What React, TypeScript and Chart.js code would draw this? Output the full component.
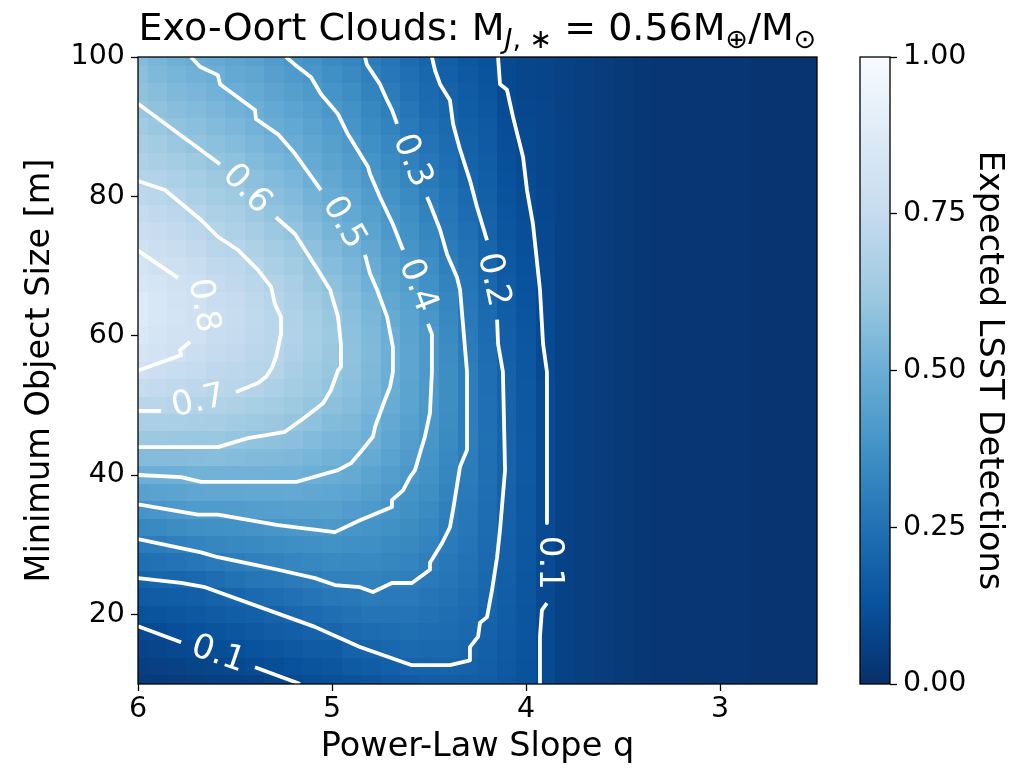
import React, { useEffect, useRef } from "react";
import { Chart, registerables } from "chart.js";

Chart.register(...registerables);

// ---------------- data ----------------
// Power-law slope q (cell centres, left to right on the reversed axis)
const qValues = [6.0, 5.9, 5.8, 5.7, 5.6, 5.5, 5.4, 5.3, 5.2, 5.1, 5.0, 4.9, 4.8, 4.7, 4.6, 4.5, 4.4, 4.3, 4.2, 4.1, 4.0, 3.9, 3.8, 3.7, 3.6, 3.5, 3.4, 3.3, 3.2, 3.1, 3.0, 2.9, 2.8, 2.7, 2.6, 2.5];
// Minimum object size [m] (cell centres, bottom to top)
const sizeValues = [10, 12.5, 15, 17.5, 20, 22.5, 25, 27.5, 30, 32.5, 35, 37.5, 40, 42.5, 45, 47.5, 50, 52.5, 55, 57.5, 60, 62.5, 65, 67.5, 70, 72.5, 75, 77.5, 80, 82.5, 85, 87.5, 90, 92.5, 95, 97.5, 100];
// Expected LSST detections: one column per q value, sizes from 10 m up to 100 m
const detections = [
  [0.04, 0.058, 0.076, 0.094, 0.125, 0.161, 0.197, 0.241, 0.286, 0.335, 0.386, 0.442, 0.5, 0.563, 0.619, 0.667, 0.713, 0.755, 0.797, 0.83, 0.855, 0.87, 0.868, 0.845, 0.82, 0.797, 0.772, 0.747, 0.722, 0.697, 0.675, 0.653, 0.63, 0.607, 0.59, 0.575, 0.56],
  [0.04, 0.06, 0.08, 0.101, 0.135, 0.168, 0.202, 0.249, 0.296, 0.345, 0.394, 0.448, 0.502, 0.563, 0.619, 0.667, 0.711, 0.746, 0.782, 0.81, 0.83, 0.843, 0.843, 0.825, 0.803, 0.781, 0.758, 0.735, 0.712, 0.688, 0.663, 0.638, 0.613, 0.59, 0.57, 0.55, 0.53],
  [0.045, 0.067, 0.09, 0.115, 0.145, 0.175, 0.208, 0.258, 0.308, 0.356, 0.404, 0.454, 0.505, 0.564, 0.617, 0.66, 0.702, 0.733, 0.765, 0.797, 0.808, 0.818, 0.815, 0.803, 0.786, 0.764, 0.741, 0.718, 0.695, 0.67, 0.643, 0.617, 0.593, 0.571, 0.55, 0.53, 0.51],
  [0.05, 0.075, 0.1, 0.126, 0.154, 0.181, 0.217, 0.269, 0.319, 0.366, 0.414, 0.465, 0.517, 0.569, 0.615, 0.654, 0.692, 0.721, 0.747, 0.774, 0.795, 0.804, 0.802, 0.787, 0.764, 0.742, 0.72, 0.697, 0.672, 0.647, 0.622, 0.597, 0.577, 0.556, 0.535, 0.514, 0.495],
  [0.055, 0.082, 0.109, 0.136, 0.164, 0.191, 0.234, 0.284, 0.328, 0.37, 0.415, 0.468, 0.52, 0.57, 0.614, 0.649, 0.683, 0.71, 0.73, 0.75, 0.767, 0.773, 0.765, 0.75, 0.733, 0.715, 0.695, 0.672, 0.648, 0.624, 0.601, 0.58, 0.56, 0.54, 0.52, 0.5, 0.48],
  [0.06, 0.09, 0.118, 0.146, 0.174, 0.204, 0.25, 0.296, 0.336, 0.376, 0.42, 0.47, 0.518, 0.562, 0.604, 0.639, 0.674, 0.705, 0.72, 0.737, 0.75, 0.755, 0.75, 0.736, 0.722, 0.701, 0.677, 0.653, 0.629, 0.605, 0.583, 0.562, 0.54, 0.518, 0.497, 0.479, 0.46],
  [0.07, 0.101, 0.13, 0.158, 0.185, 0.221, 0.264, 0.306, 0.346, 0.386, 0.428, 0.473, 0.516, 0.555, 0.594, 0.628, 0.66, 0.694, 0.708, 0.72, 0.73, 0.732, 0.725, 0.713, 0.699, 0.674, 0.65, 0.625, 0.6, 0.58, 0.56, 0.54, 0.519, 0.499, 0.481, 0.463, 0.445],
  [0.08, 0.112, 0.14, 0.169, 0.197, 0.235, 0.276, 0.316, 0.355, 0.394, 0.434, 0.475, 0.514, 0.551, 0.587, 0.617, 0.644, 0.67, 0.697, 0.706, 0.712, 0.711, 0.704, 0.687, 0.665, 0.643, 0.62, 0.598, 0.578, 0.557, 0.536, 0.515, 0.495, 0.476, 0.457, 0.438, 0.42],
  [0.095, 0.124, 0.152, 0.18, 0.21, 0.248, 0.286, 0.324, 0.362, 0.4, 0.438, 0.477, 0.513, 0.545, 0.578, 0.606, 0.626, 0.645, 0.661, 0.675, 0.685, 0.681, 0.672, 0.658, 0.642, 0.62, 0.598, 0.577, 0.555, 0.534, 0.512, 0.491, 0.471, 0.452, 0.432, 0.413, 0.395],
  [0.11, 0.137, 0.164, 0.191, 0.224, 0.26, 0.296, 0.332, 0.368, 0.404, 0.437, 0.47, 0.503, 0.53, 0.556, 0.583, 0.606, 0.622, 0.635, 0.647, 0.655, 0.647, 0.632, 0.616, 0.603, 0.584, 0.563, 0.542, 0.522, 0.501, 0.483, 0.466, 0.448, 0.431, 0.413, 0.396, 0.38],
  [0.12, 0.143, 0.167, 0.203, 0.239, 0.275, 0.31, 0.343, 0.375, 0.407, 0.436, 0.465, 0.494, 0.517, 0.54, 0.56, 0.58, 0.6, 0.61, 0.618, 0.623, 0.614, 0.603, 0.585, 0.566, 0.547, 0.528, 0.509, 0.49, 0.473, 0.455, 0.437, 0.42, 0.402, 0.385, 0.367, 0.35],
  [0.13, 0.16, 0.19, 0.221, 0.25, 0.28, 0.31, 0.338, 0.366, 0.394, 0.42, 0.452, 0.48, 0.505, 0.53, 0.548, 0.565, 0.576, 0.585, 0.588, 0.587, 0.577, 0.567, 0.551, 0.535, 0.516, 0.497, 0.479, 0.46, 0.442, 0.425, 0.407, 0.39, 0.375, 0.36, 0.345, 0.33],
  [0.14, 0.17, 0.2, 0.231, 0.26, 0.29, 0.315, 0.339, 0.362, 0.385, 0.41, 0.433, 0.455, 0.48, 0.505, 0.52, 0.535, 0.543, 0.55, 0.551, 0.55, 0.539, 0.527, 0.508, 0.49, 0.472, 0.455, 0.437, 0.42, 0.402, 0.385, 0.368, 0.35, 0.335, 0.32, 0.305, 0.29],
  [0.155, 0.185, 0.21, 0.235, 0.26, 0.283, 0.305, 0.328, 0.35, 0.37, 0.39, 0.41, 0.43, 0.448, 0.465, 0.478, 0.49, 0.498, 0.503, 0.504, 0.5, 0.485, 0.47, 0.455, 0.44, 0.425, 0.41, 0.395, 0.38, 0.365, 0.35, 0.335, 0.32, 0.305, 0.29, 0.275, 0.26],
  [0.165, 0.195, 0.22, 0.242, 0.263, 0.283, 0.303, 0.322, 0.34, 0.355, 0.37, 0.386, 0.402, 0.416, 0.43, 0.44, 0.45, 0.455, 0.46, 0.459, 0.455, 0.448, 0.44, 0.422, 0.405, 0.39, 0.375, 0.362, 0.35, 0.33, 0.31, 0.297, 0.285, 0.27, 0.255, 0.243, 0.23],
  [0.175, 0.197, 0.215, 0.233, 0.25, 0.268, 0.285, 0.303, 0.32, 0.335, 0.35, 0.363, 0.375, 0.384, 0.392, 0.399, 0.405, 0.408, 0.41, 0.408, 0.405, 0.395, 0.385, 0.373, 0.36, 0.345, 0.33, 0.314, 0.298, 0.284, 0.27, 0.258, 0.245, 0.232, 0.22, 0.21, 0.2],
  [0.18, 0.2, 0.215, 0.228, 0.24, 0.253, 0.265, 0.277, 0.288, 0.297, 0.305, 0.318, 0.33, 0.34, 0.35, 0.355, 0.36, 0.361, 0.36, 0.355, 0.35, 0.34, 0.33, 0.318, 0.305, 0.293, 0.28, 0.27, 0.26, 0.25, 0.24, 0.23, 0.22, 0.207, 0.195, 0.185, 0.175],
  [0.175, 0.19, 0.203, 0.214, 0.225, 0.235, 0.245, 0.254, 0.262, 0.27, 0.278, 0.284, 0.29, 0.295, 0.298, 0.3, 0.301, 0.3, 0.298, 0.293, 0.288, 0.282, 0.275, 0.268, 0.26, 0.252, 0.243, 0.232, 0.22, 0.204, 0.195, 0.187, 0.18, 0.172, 0.165, 0.157, 0.15],
  [0.17, 0.178, 0.185, 0.193, 0.2, 0.206, 0.212, 0.219, 0.225, 0.23, 0.235, 0.239, 0.242, 0.244, 0.245, 0.244, 0.243, 0.24, 0.238, 0.234, 0.23, 0.224, 0.218, 0.212, 0.207, 0.202, 0.197, 0.19, 0.182, 0.175, 0.168, 0.162, 0.155, 0.148, 0.14, 0.135, 0.13],
  [0.15, 0.155, 0.16, 0.165, 0.17, 0.174, 0.178, 0.182, 0.185, 0.188, 0.19, 0.193, 0.195, 0.196, 0.197, 0.196, 0.195, 0.193, 0.19, 0.185, 0.18, 0.175, 0.17, 0.163, 0.157, 0.151, 0.145, 0.138, 0.132, 0.126, 0.12, 0.115, 0.11, 0.105, 0.1, 0.097, 0.093],
  [0.13, 0.132, 0.135, 0.138, 0.14, 0.143, 0.145, 0.148, 0.15, 0.152, 0.153, 0.154, 0.155, 0.155, 0.155, 0.154, 0.153, 0.152, 0.15, 0.147, 0.143, 0.138, 0.133, 0.128, 0.124, 0.12, 0.115, 0.11, 0.105, 0.101, 0.097, 0.093, 0.09, 0.087, 0.085, 0.082, 0.08],
  [0.097, 0.097, 0.097, 0.097, 0.098, 0.1, 0.101, 0.102, 0.102, 0.102, 0.102, 0.102, 0.102, 0.102, 0.102, 0.102, 0.101, 0.101, 0.1, 0.099, 0.098, 0.097, 0.096, 0.095, 0.093, 0.092, 0.09, 0.088, 0.087, 0.085, 0.083, 0.082, 0.08, 0.078, 0.077, 0.076, 0.075],
  [0.07, 0.07, 0.07, 0.07, 0.07, 0.07, 0.07, 0.07, 0.07, 0.07, 0.07, 0.07, 0.07, 0.07, 0.07, 0.07, 0.07, 0.07, 0.07, 0.07, 0.07, 0.07, 0.07, 0.07, 0.07, 0.07, 0.07, 0.07, 0.07, 0.07, 0.07, 0.069, 0.068, 0.067, 0.066, 0.065, 0.065],
  [0.055, 0.055, 0.055, 0.055, 0.055, 0.055, 0.055, 0.055, 0.055, 0.055, 0.055, 0.055, 0.055, 0.055, 0.055, 0.055, 0.055, 0.055, 0.055, 0.055, 0.055, 0.055, 0.055, 0.055, 0.055, 0.055, 0.055, 0.055, 0.055, 0.055, 0.055, 0.055, 0.055, 0.055, 0.055, 0.055, 0.055],
  [0.045, 0.045, 0.045, 0.045, 0.045, 0.045, 0.045, 0.045, 0.045, 0.045, 0.045, 0.045, 0.045, 0.045, 0.045, 0.045, 0.045, 0.045, 0.045, 0.045, 0.045, 0.045, 0.045, 0.045, 0.045, 0.045, 0.045, 0.045, 0.045, 0.045, 0.045, 0.045, 0.045, 0.045, 0.045, 0.045, 0.045],
  [0.035, 0.035, 0.035, 0.035, 0.035, 0.035, 0.035, 0.035, 0.035, 0.035, 0.035, 0.035, 0.035, 0.035, 0.035, 0.035, 0.035, 0.035, 0.035, 0.035, 0.035, 0.035, 0.035, 0.035, 0.035, 0.035, 0.035, 0.035, 0.035, 0.035, 0.035, 0.035, 0.035, 0.035, 0.035, 0.035, 0.035],
  [0.028, 0.028, 0.028, 0.028, 0.028, 0.028, 0.028, 0.028, 0.028, 0.028, 0.028, 0.028, 0.028, 0.028, 0.028, 0.028, 0.028, 0.028, 0.028, 0.028, 0.028, 0.028, 0.028, 0.028, 0.028, 0.028, 0.028, 0.028, 0.028, 0.028, 0.028, 0.028, 0.028, 0.028, 0.028, 0.028, 0.028],
  [0.024, 0.024, 0.024, 0.024, 0.024, 0.024, 0.024, 0.024, 0.024, 0.024, 0.024, 0.024, 0.024, 0.024, 0.024, 0.024, 0.024, 0.024, 0.024, 0.024, 0.024, 0.024, 0.024, 0.024, 0.024, 0.024, 0.024, 0.024, 0.024, 0.024, 0.024, 0.024, 0.024, 0.024, 0.024, 0.024, 0.024],
  [0.022, 0.022, 0.022, 0.022, 0.022, 0.022, 0.022, 0.022, 0.022, 0.022, 0.022, 0.022, 0.022, 0.022, 0.022, 0.022, 0.022, 0.022, 0.022, 0.022, 0.022, 0.022, 0.022, 0.022, 0.022, 0.022, 0.022, 0.022, 0.022, 0.022, 0.022, 0.022, 0.022, 0.022, 0.022, 0.022, 0.022],
  [0.021, 0.021, 0.021, 0.021, 0.021, 0.021, 0.021, 0.021, 0.021, 0.021, 0.021, 0.021, 0.021, 0.021, 0.021, 0.021, 0.021, 0.021, 0.021, 0.021, 0.021, 0.021, 0.021, 0.021, 0.021, 0.021, 0.021, 0.021, 0.021, 0.021, 0.021, 0.021, 0.021, 0.021, 0.021, 0.021, 0.021],
  [0.02, 0.02, 0.02, 0.02, 0.02, 0.02, 0.02, 0.02, 0.02, 0.02, 0.02, 0.02, 0.02, 0.02, 0.02, 0.02, 0.02, 0.02, 0.02, 0.02, 0.02, 0.02, 0.02, 0.02, 0.02, 0.02, 0.02, 0.02, 0.02, 0.02, 0.02, 0.02, 0.02, 0.02, 0.02, 0.02, 0.02],
  [0.02, 0.02, 0.02, 0.02, 0.02, 0.02, 0.02, 0.02, 0.02, 0.02, 0.02, 0.02, 0.02, 0.02, 0.02, 0.02, 0.02, 0.02, 0.02, 0.02, 0.02, 0.02, 0.02, 0.02, 0.02, 0.02, 0.02, 0.02, 0.02, 0.02, 0.02, 0.02, 0.02, 0.02, 0.02, 0.02, 0.02],
  [0.019, 0.019, 0.019, 0.019, 0.019, 0.019, 0.019, 0.019, 0.019, 0.019, 0.019, 0.019, 0.019, 0.019, 0.019, 0.019, 0.019, 0.019, 0.019, 0.019, 0.019, 0.019, 0.019, 0.019, 0.019, 0.019, 0.019, 0.019, 0.019, 0.019, 0.019, 0.019, 0.019, 0.019, 0.019, 0.019, 0.019],
  [0.019, 0.019, 0.019, 0.019, 0.019, 0.019, 0.019, 0.019, 0.019, 0.019, 0.019, 0.019, 0.019, 0.019, 0.019, 0.019, 0.019, 0.019, 0.019, 0.019, 0.019, 0.019, 0.019, 0.019, 0.019, 0.019, 0.019, 0.019, 0.019, 0.019, 0.019, 0.019, 0.019, 0.019, 0.019, 0.019, 0.019],
  [0.018, 0.018, 0.018, 0.018, 0.018, 0.018, 0.018, 0.018, 0.018, 0.018, 0.018, 0.018, 0.018, 0.018, 0.018, 0.018, 0.018, 0.018, 0.018, 0.018, 0.018, 0.018, 0.018, 0.018, 0.018, 0.018, 0.018, 0.018, 0.018, 0.018, 0.018, 0.018, 0.018, 0.018, 0.018, 0.018, 0.018],
  [0.018, 0.018, 0.018, 0.018, 0.018, 0.018, 0.018, 0.018, 0.018, 0.018, 0.018, 0.018, 0.018, 0.018, 0.018, 0.018, 0.018, 0.018, 0.018, 0.018, 0.018, 0.018, 0.018, 0.018, 0.018, 0.018, 0.018, 0.018, 0.018, 0.018, 0.018, 0.018, 0.018, 0.018, 0.018, 0.018, 0.018],
];

// Contour lines [q, size] (split where the labels sit)
const c08a = [[6.0, 72.2], [5.794, 68.3]];
const c08b = [[5.732, 59.1], [5.784, 57.9], [5.778, 57.2], [6.0, 55.0]];
const c07a = [[6.0, 82.2], [5.861, 80.9], [5.675, 76.6], [5.588, 74.2], [5.485, 72.3], [5.381, 69.4], [5.314, 67.0], [5.294, 64.5], [5.263, 62.7], [5.263, 60.2], [5.289, 56.9], [5.309, 55.4], [5.34, 54.1], [5.381, 53.2], [5.495, 51.9]];
const c07b = [[5.881, 49.2], [6.0, 49.2]];
const c06a = [[6.0, 93.3], [5.577, 84.6]];
const c06b = [[5.289, 77.0], [5.191, 74.6], [5.072, 69.4], [5.01, 66.6], [4.969, 62.7], [4.954, 58.8], [4.954, 55.5], [4.969, 55.0], [5.005, 52.2], [5.046, 50.3], [5.139, 48.3], [5.242, 46.2], [5.433, 45.3], [5.588, 44.0], [6.0, 44.0]];
const c05a = [[5.727, 100], [5.68, 98.6], [5.588, 97.4], [5.577, 96.1], [5.397, 92.4], [5.392, 91.1], [5.278, 88.9], [5.191, 86.1], [5.057, 80.9]];
const c05b = [[4.83, 71.6], [4.804, 68.9], [4.768, 66.6], [4.716, 62.7], [4.686, 58.4], [4.686, 54.8], [4.701, 52.6], [4.727, 50.8], [4.778, 46.9], [4.789, 45.5], [4.856, 43.2], [4.902, 41.7], [4.969, 40.7], [5.108, 39.6], [5.186, 39.0], [5.675, 39.0], [5.778, 39.7], [6.0, 40.0]];
const c04a = [[5.237, 100], [5.191, 98.9], [5.108, 97.1], [5.057, 94.7], [4.969, 91.8], [4.918, 88.9], [4.814, 84.2], [4.804, 83.2], [4.753, 79.9], [4.686, 76.0], [4.634, 72.3]];
const c04b = [[4.505, 61.7], [4.485, 60.2], [4.485, 54.8], [4.495, 48.9], [4.521, 45.5], [4.546, 43.2], [4.572, 40.7], [4.598, 39.7], [4.634, 37.8], [4.691, 36.4], [4.691, 35.4], [4.856, 33.5], [4.985, 31.8], [5.278, 32.8], [5.588, 34.3], [5.691, 34.3], [6.0, 35.8]];
const c03a = [[4.83, 100], [4.82, 98.9], [4.753, 96.1], [4.716, 93.8], [4.691, 92.4], [4.665, 90.4]];
const c03b = [[4.51, 79.9], [4.495, 78.9], [4.443, 75.2], [4.407, 71.7], [4.356, 68.4], [4.34, 66.6], [4.325, 61.7], [4.304, 54.8], [4.304, 43.6], [4.34, 41.2], [4.376, 35.0], [4.392, 32.5], [4.433, 30.2], [4.495, 27.4], [4.495, 26.4], [4.588, 24.5], [4.691, 24.5], [4.789, 23.2], [4.856, 23.9], [4.985, 24.2], [5.088, 25.2], [5.278, 26.4], [5.397, 27.1], [5.588, 28.2], [5.675, 28.9], [6.0, 30.8]];
const c02a = [[4.485, 100], [4.469, 98.1], [4.443, 96.1], [4.392, 93.8], [4.376, 90.4], [4.34, 86.7], [4.289, 82.3], [4.253, 78.5], [4.201, 73.7]];
const c02b = [[4.149, 62.3], [4.144, 58.8], [4.119, 54.8], [4.108, 40.7], [4.134, 32.1], [4.149, 28.2], [4.175, 23.5], [4.201, 19.6], [4.237, 18.8], [4.247, 16.8], [4.289, 15.3], [4.289, 13.4], [4.392, 12.7], [4.588, 12.7], [4.856, 15.3], [5.088, 18.2], [5.655, 23.9], [5.778, 24.5], [6.0, 25.2]];
const c01a = [[4.144, 100], [4.134, 96.1], [4.098, 95.3], [4.067, 91.4], [4.015, 85.6], [3.995, 80.9], [3.964, 76.0], [3.928, 66.6], [3.912, 58.8], [3.892, 54.8], [3.892, 33.1]];
const c01b = [[3.892, 21.6], [3.918, 20.6], [3.928, 16.8], [3.928, 10.0]];
const c01c = [[6.0, 18.3], [5.778, 16.0]];
const c01d = [[5.397, 12.4], [5.191, 10.3], [5.165, 10.0]];
const contourSegments = [c08a, c08b, c07a, c07b, c06a, c06b, c05a, c05b, c04a, c04b, c03a, c03b, c02a, c02b, c01a, c01b, c01c, c01d];

// Contour labels (text and position in data units)
const contourLabels = [
  { text: "0.8", q: 5.665, m: 64.3 },
  { text: "0.7", q: 5.688, m: 50.5 },
  { text: "0.6", q: 5.44, m: 81.0 },
  { text: "0.5", q: 4.94, m: 76.2 },
  { text: "0.4", q: 4.56, m: 67.2 },
  { text: "0.3", q: 4.588, m: 85.1 },
  { text: "0.2", q: 4.17, m: 68.0 },
  { text: "0.1", q: 3.88, m: 27.4 },
  { text: "0.1", q: 5.588, m: 14.2 },
];
const labelAngles = [80, -13, 46, 60, 69, 68, 78, 90, 19];

const xTicks = [6, 5, 4, 3];
const yTicks = [20, 40, 60, 80, 100];
const cbTicks = [0, 0.25, 0.5, 0.75, 1];

// ---------------- styling helpers ----------------
const FONT = '"DejaVu Sans", sans-serif';
const BLUES = ["#f7fbff", "#deebf7", "#c6dbef", "#9ecae1", "#6baed6", "#4292c6", "#2171b5", "#08519c", "#08306b"];
const BLUES_RGB = BLUES.map((h) => [parseInt(h.slice(1, 3), 16), parseInt(h.slice(3, 5), 16), parseInt(h.slice(5, 7), 16)]);

function bluesR(v: number): string {
  const t = 1 - Math.max(0, Math.min(1, v));
  const p = t * (BLUES_RGB.length - 1);
  const i = Math.min(BLUES_RGB.length - 2, Math.floor(p));
  const f = p - i;
  const a = BLUES_RGB[i];
  const b = BLUES_RGB[i + 1];
  return `rgb(${Math.round(a[0] + (b[0] - a[0]) * f)},${Math.round(a[1] + (b[1] - a[1]) * f)},${Math.round(a[2] + (b[2] - a[2]) * f)})`;
}

function cellEdges(c: number[]): number[][] {
  const n = c.length;
  return c.map((v, i) => {
    const lo = i === 0 ? v - (c[1] - c[0]) / 2 : (c[i - 1] + v) / 2;
    const hi = i === n - 1 ? v + (c[n - 1] - c[n - 2]) / 2 : (v + c[i + 1]) / 2;
    return [lo, hi];
  });
}

const heatmapPlugin = {
  id: "heatmap",
  beforeDatasetsDraw(chart: any) {
    const { ctx, chartArea: a, scales } = chart;
    const xs = scales.x;
    const ys = scales.y;
    const xe = cellEdges(qValues);
    const ye = cellEdges(sizeValues);
    ctx.save();
    ctx.beginPath();
    ctx.rect(a.left, a.top, a.right - a.left, a.bottom - a.top);
    ctx.clip();
    detections.forEach((col, i) => {
      const p0 = Math.round(xs.getPixelForValue(xe[i][0]));
      const p1 = Math.round(xs.getPixelForValue(xe[i][1]));
      const left = Math.min(p0, p1);
      const w = Math.abs(p1 - p0);
      col.forEach((v, j) => {
        const y0 = Math.round(ys.getPixelForValue(ye[j][0]));
        const y1 = Math.round(ys.getPixelForValue(ye[j][1]));
        ctx.fillStyle = bluesR(v);
        ctx.fillRect(left, Math.min(y0, y1), w, Math.abs(y1 - y0));
      });
    });
    ctx.restore();
  },
  afterDatasetsDraw(chart: any) {
    const { ctx, scales } = chart;
    ctx.save();
    ctx.fillStyle = "#ffffff";
    ctx.font = `34px ${FONT}`;
    ctx.textAlign = "center";
    ctx.textBaseline = "middle";
    contourLabels.forEach((lab, k) => {
      const px = scales.x.getPixelForValue(lab.q);
      const py = scales.y.getPixelForValue(lab.m);
      ctx.save();
      ctx.translate(px, py);
      ctx.rotate((labelAngles[k] * Math.PI) / 180);
      ctx.fillText(lab.text, 0, 0);
      ctx.restore();
    });
    ctx.restore();
  },
  afterDraw(chart: any) {
    const { ctx, chartArea: a } = chart;
    ctx.save();
    ctx.strokeStyle = "#000";
    ctx.lineWidth = 1.3;
    ctx.strokeRect(a.left, a.top, a.right - a.left, a.bottom - a.top);
    // title with sub-scripts
    const parts: [string, string, number][] = [
      ["Exo-Oort Clouds: M", `38px ${FONT}`, 0],
      ["J", `italic 27px ${FONT}`, 8],
      [", \u2217", `27px ${FONT}`, 8],
      [" = 0.56M", `38px ${FONT}`, 0],
      ["\u2295", `27px ${FONT}`, 8],
      ["/M", `38px ${FONT}`, 0],
      ["\u2299", `27px ${FONT}`, 8],
    ];
    let total = 0;
    const widths = parts.map(([t, f]) => {
      ctx.font = f;
      const w = ctx.measureText(t).width;
      total += w;
      return w;
    });
    let x = (a.left + a.right) / 2 - total / 2;
    const base = 40;
    ctx.fillStyle = "#000";
    ctx.textAlign = "left";
    ctx.textBaseline = "alphabetic";
    parts.forEach(([t, f, dy], k) => {
      ctx.font = f;
      ctx.fillText(t, x, base + dy);
      x += widths[k];
    });
    ctx.restore();
  },
};

const colorbarPlugin = {
  id: "colorbar",
  beforeDatasetsDraw(chart: any) {
    const { ctx, chartArea: a, scales } = chart;
    const ys = scales.y;
    ctx.save();
    for (let py = Math.floor(a.top); py < Math.ceil(a.bottom); py++) {
      ctx.fillStyle = bluesR(ys.getValueForPixel(py + 0.5));
      ctx.fillRect(a.left, py, a.right - a.left, 1);
    }
    ctx.restore();
  },
  afterDraw(chart: any) {
    const { ctx, chartArea: a } = chart;
    ctx.save();
    ctx.strokeStyle = "#000";
    ctx.lineWidth = 1.3;
    ctx.strokeRect(a.left, a.top, a.right - a.left, a.bottom - a.top);
    ctx.restore();
  },
};

const tickGrid = { display: true, drawOnChartArea: false, drawTicks: true, tickLength: 7, tickWidth: 1.3, tickColor: "#000" };

export default function App() {
  const mainRef = useRef<HTMLCanvasElement>(null);
  const barRef = useRef<HTMLCanvasElement>(null);

  useEffect(() => {
    Chart.defaults.font.family = FONT;
    const main = new Chart(mainRef.current as HTMLCanvasElement, {
      type: "scatter",
      data: {
        datasets: contourSegments.map((seg) => ({
          data: seg.map(([q, m]) => ({ x: q, y: m })),
          showLine: true,
          borderColor: "#ffffff",
          backgroundColor: "#ffffff",
          borderWidth: 3.8,
          pointRadius: 0,
          tension: 0,
          fill: false,
          clip: 0,
          borderJoinStyle: "round",
        })),
      } as any,
      options: {
        responsive: false,
        animation: false,
        devicePixelRatio: 1,
        events: [],
        layout: { padding: { left: 0, top: 57, right: 28, bottom: 0 } },
        plugins: { legend: { display: false }, tooltip: { enabled: false }, title: { display: false } },
        scales: {
          x: {
            type: "linear",
            min: 2.5,
            max: 6,
            reverse: true,
            afterBuildTicks: (s: any) => {
              s.ticks = xTicks.map((v) => ({ value: v }));
            },
            afterFit: (s: any) => {
              s.height = 87;
            },
            ticks: { font: { size: 28.5 }, color: "#000", padding: 1, maxRotation: 0, callback: (v: any) => String(v) },
            grid: tickGrid,
            border: { display: false },
            title: { display: true, text: "Power-Law Slope q", font: { size: 33.5 }, color: "#000", padding: { top: 0, bottom: 4 } },
          },
          y: {
            type: "linear",
            min: 10,
            max: 100,
            afterBuildTicks: (s: any) => {
              s.ticks = yTicks.map((v) => ({ value: v }));
            },
            afterFit: (s: any) => {
              s.width = 138;
            },
            ticks: { font: { size: 28.5 }, color: "#000", padding: 6, callback: (v: any) => String(v) },
            grid: tickGrid,
            border: { display: false },
            title: { display: true, text: "Minimum Object Size [m]", font: { size: 33.5 }, color: "#000", padding: { top: 20, bottom: 0 } },
          },
        },
      } as any,
      plugins: [heatmapPlugin],
    });

    const bar = new Chart(barRef.current as HTMLCanvasElement, {
      type: "scatter",
      data: { datasets: [] },
      options: {
        responsive: false,
        animation: false,
        devicePixelRatio: 1,
        events: [],
        layout: { padding: { left: 15, top: 57, right: 0, bottom: 87 } },
        plugins: { legend: { display: false }, tooltip: { enabled: false } },
        scales: {
          x: { display: false, min: 0, max: 1 },
          y: {
            position: "right",
            min: 0,
            max: 1,
            afterBuildTicks: (s: any) => {
              s.ticks = cbTicks.map((v) => ({ value: v }));
            },
            afterFit: (s: any) => {
              s.width = 146;
            },
            ticks: { font: { size: 28.5 }, color: "#000", padding: 6, callback: (v: any) => Number(v).toFixed(2) },
            grid: tickGrid,
            border: { display: false },
            title: { display: true, text: "Expected LSST Detections", font: { size: 33.5 }, color: "#000", padding: { top: 27, bottom: 0 } },
          },
        },
      } as any,
      plugins: [colorbarPlugin],
    });

    return () => {
      main.destroy();
      bar.destroy();
    };
  }, []);

  return (
    <div style={{ position: "absolute", left: 0, top: 0, width: 1036, height: 771, background: "#ffffff" }}>
      <canvas ref={mainRef} width={845} height={771} style={{ position: "absolute", left: 0, top: 0, width: 845, height: 771 }} />
      <canvas ref={barRef} width={191} height={771} style={{ position: "absolute", left: 845, top: 0, width: 191, height: 771 }} />
    </div>
  );
}
